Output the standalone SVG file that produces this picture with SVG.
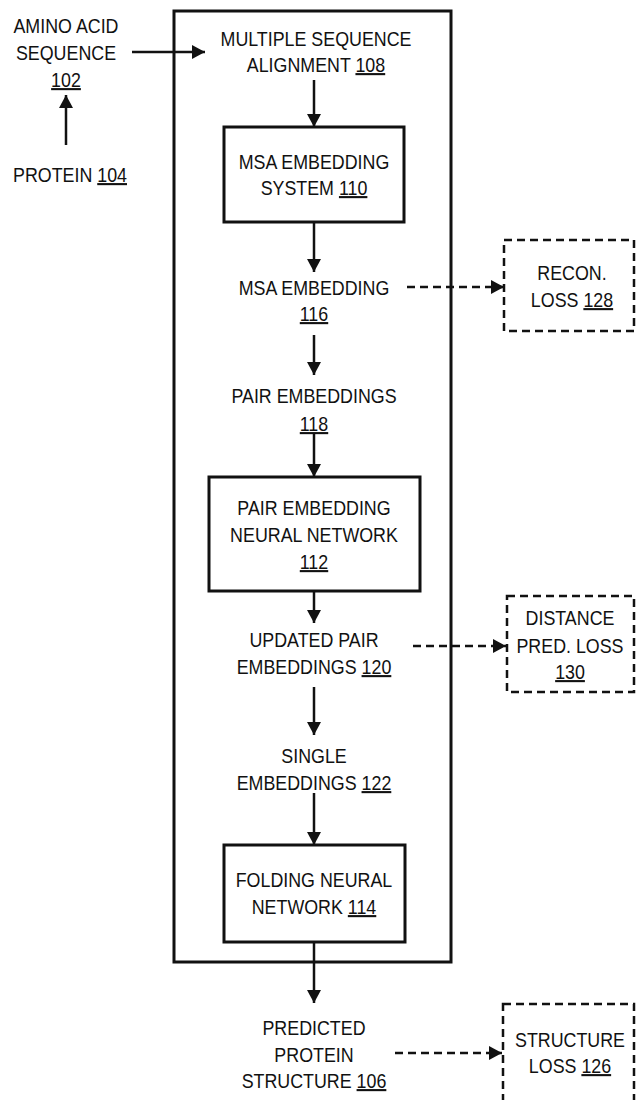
<svg xmlns="http://www.w3.org/2000/svg" width="636" height="1100" viewBox="0 0 636 1100">
<style>
text{font-family:"Liberation Sans",Arial,sans-serif;font-size:21px;fill:#111;text-anchor:middle;transform-box:fill-box;transform-origin:center;transform:scaleX(0.85)}
.u{text-decoration:underline}
.box{fill:none;stroke:#111;stroke-width:3}
.dbox{fill:none;stroke:#111;stroke-width:2.5;stroke-dasharray:8 5}
.c{fill:none;stroke:#111;stroke-width:2.5}
.d{fill:none;stroke:#111;stroke-width:2.5;stroke-dasharray:8 5}
</style>
<defs>
<marker id="ah" markerWidth="13" markerHeight="14" refX="13" refY="7" orient="auto" markerUnits="userSpaceOnUse">
<path d="M0,0 L13,7 L0,14 Z" fill="#111"/>
</marker>
</defs>
<rect id="frame" x="174" y="11" width="277" height="951" class="box"/>
<g id="n102"><text x="66" y="33">AMINO ACID</text><text x="66" y="60">SEQUENCE</text><text x="66" y="87"><tspan class="u">102</tspan></text></g>
<g id="n104"><text x="70" y="182">PROTEIN <tspan class="u">104</tspan></text></g>
<g id="n108"><text x="316" y="46">MULTIPLE SEQUENCE</text><text x="316" y="72">ALIGNMENT <tspan class="u">108</tspan></text></g>
<g id="n110"><rect x="224" y="127" width="180" height="95" class="box"/><text x="314" y="169">MSA EMBEDDING</text><text x="314" y="195">SYSTEM <tspan class="u">110</tspan></text></g>
<g id="n116"><text x="314" y="295">MSA EMBEDDING</text><text x="314" y="321"><tspan class="u">116</tspan></text></g>
<g id="n128"><rect x="504" y="240" width="130" height="91" class="dbox"/><text x="572" y="280">RECON.</text><text x="572" y="307">LOSS <tspan class="u">128</tspan></text></g>
<g id="n118"><text x="314" y="403">PAIR EMBEDDINGS</text><text x="314" y="431"><tspan class="u">118</tspan></text></g>
<g id="n112"><rect x="209" y="477" width="211" height="114" class="box"/><text x="314" y="515">PAIR EMBEDDING</text><text x="314" y="542">NEURAL NETWORK</text><text x="314" y="569"><tspan class="u">112</tspan></text></g>
<g id="n120"><text x="314" y="647">UPDATED PAIR</text><text x="314" y="674">EMBEDDINGS <tspan class="u">120</tspan></text></g>
<g id="n130"><rect x="507" y="596" width="127" height="96" class="dbox"/><text x="570" y="625">DISTANCE</text><text x="570" y="653">PRED. LOSS</text><text x="570" y="679"><tspan class="u">130</tspan></text></g>
<g id="n122"><text x="314" y="763">SINGLE</text><text x="314" y="790">EMBEDDINGS <tspan class="u">122</tspan></text></g>
<g id="n114"><rect x="224" y="845" width="181" height="97" class="box"/><text x="314" y="887">FOLDING NEURAL</text><text x="314" y="914">NETWORK <tspan class="u">114</tspan></text></g>
<g id="n106"><text x="314" y="1035">PREDICTED</text><text x="314" y="1062">PROTEIN</text><text x="314" y="1088">STRUCTURE <tspan class="u">106</tspan></text></g>
<g id="n126"><rect x="503" y="1004" width="131" height="100" class="dbox"/><text x="570" y="1047">STRUCTURE</text><text x="570" y="1073">LOSS <tspan class="u">126</tspan></text></g>
<g id="connectors">
<line x1="66" y1="145" x2="66" y2="95" class="c" marker-end="url(#ah)"/>
<line x1="132" y1="52" x2="205" y2="52" class="c" marker-end="url(#ah)"/>
<line x1="314" y1="80" x2="314" y2="127" class="c" marker-end="url(#ah)"/>
<line x1="314" y1="222" x2="314" y2="272" class="c" marker-end="url(#ah)"/>
<line x1="407" y1="287" x2="504" y2="287" class="d" marker-end="url(#ah)"/>
<line x1="314" y1="335" x2="314" y2="375" class="c" marker-end="url(#ah)"/>
<line x1="314" y1="433" x2="314" y2="477" class="c" marker-end="url(#ah)"/>
<line x1="314" y1="591" x2="314" y2="623" class="c" marker-end="url(#ah)"/>
<line x1="413" y1="646" x2="506" y2="646" class="d" marker-end="url(#ah)"/>
<line x1="314" y1="687" x2="314" y2="735" class="c" marker-end="url(#ah)"/>
<line x1="314" y1="793" x2="314" y2="845" class="c" marker-end="url(#ah)"/>
<line x1="314" y1="942" x2="314" y2="1003" class="c" marker-end="url(#ah)"/>
<line x1="395" y1="1053" x2="502" y2="1053" class="d" marker-end="url(#ah)"/>
</g>
</svg>
